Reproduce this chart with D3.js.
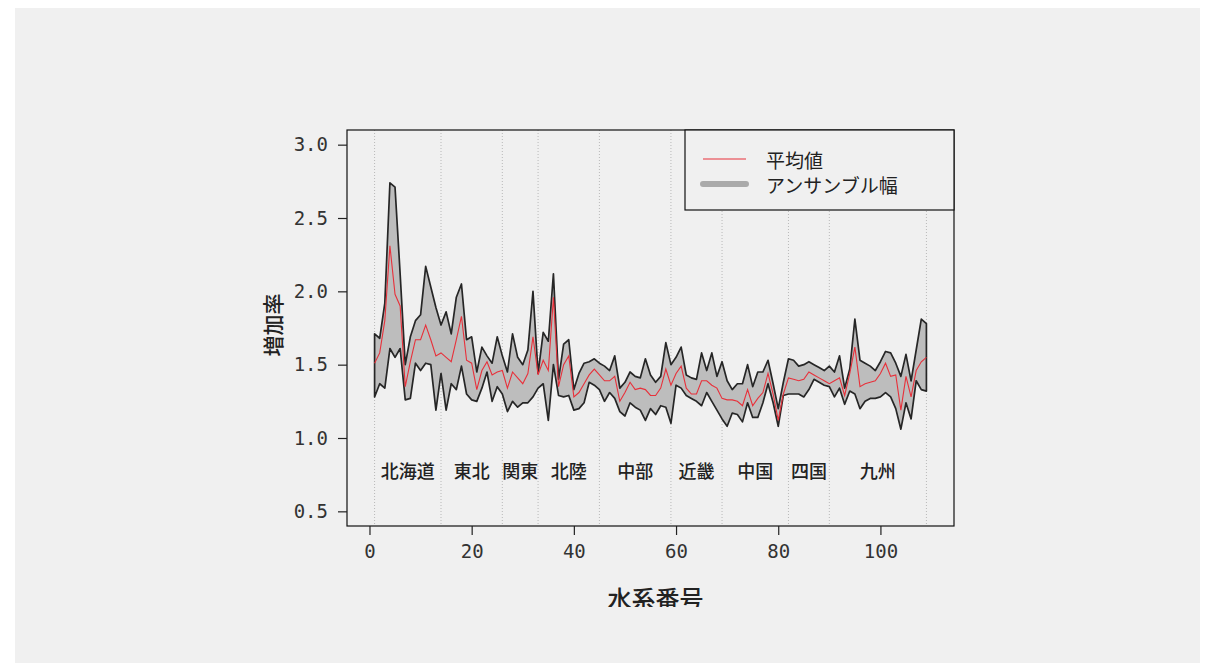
<!DOCTYPE html>
<html>
<head>
<meta charset="utf-8">
<script src="https://cdn.jsdelivr.net/npm/d3@7"></script>
<style>
body { margin: 0; background: #fff; }
</style>
</head>
<body>
<script>
// 水系番号 1..109
const upper = [
  1.71, 1.68, 1.92, 2.74, 2.71, 2.12, 1.50, 1.69, 1.80, 1.84, 2.17, 2.03, 1.89, 1.77, 1.86, 1.71, 1.96, 2.05, 1.67, 1.69, 1.45,
  1.62, 1.56, 1.51, 1.69, 1.56, 1.45, 1.71, 1.55, 1.50, 1.60, 2.00, 1.44, 1.72, 1.66, 2.12, 1.40, 1.64, 1.67, 1.33, 1.44, 1.51,
  1.52, 1.54, 1.51, 1.49, 1.46, 1.56, 1.34, 1.38, 1.45, 1.42, 1.41, 1.54, 1.43, 1.38, 1.42, 1.65, 1.50, 1.55, 1.62, 1.43, 1.41, 1.40,
  1.58, 1.46, 1.58, 1.42, 1.52, 1.39, 1.33, 1.37, 1.37, 1.50, 1.35, 1.45, 1.45, 1.53, 1.37, 1.20, 1.38, 1.54, 1.53, 1.49, 1.50,
  1.52, 1.50, 1.48, 1.46, 1.49, 1.45, 1.56, 1.34, 1.47, 1.81, 1.53, 1.51, 1.49, 1.46, 1.52, 1.59, 1.58, 1.51, 1.42, 1.57, 1.39, 1.60, 1.81, 1.78
];
const lower = [
  1.28, 1.37, 1.34, 1.61, 1.55, 1.61, 1.26, 1.27, 1.51, 1.46, 1.51, 1.50, 1.19, 1.44, 1.19, 1.37, 1.33, 1.49, 1.30, 1.26, 1.25,
  1.34, 1.45, 1.25, 1.35, 1.30, 1.18, 1.25, 1.21, 1.24, 1.24, 1.28, 1.34, 1.37, 1.12, 1.50, 1.29, 1.28, 1.29, 1.19, 1.20, 1.24,
  1.38, 1.36, 1.33, 1.25, 1.31, 1.27, 1.18, 1.15, 1.24, 1.21, 1.19, 1.12, 1.20, 1.16, 1.22, 1.21, 1.10, 1.36, 1.34, 1.29, 1.27, 1.25,
  1.22, 1.31, 1.25, 1.19, 1.13, 1.08, 1.17, 1.16, 1.11, 1.24, 1.14, 1.14, 1.24, 1.37, 1.24, 1.08, 1.29, 1.30, 1.30, 1.30, 1.28,
  1.33, 1.40, 1.38, 1.36, 1.35, 1.28, 1.34, 1.23, 1.32, 1.30, 1.20, 1.25, 1.27, 1.27, 1.28, 1.31, 1.28, 1.20, 1.06, 1.24, 1.13, 1.39, 1.33, 1.32
];
const mean = [
  1.51, 1.58, 1.80, 2.31, 1.98, 1.90, 1.35, 1.52, 1.67, 1.67, 1.77, 1.67, 1.56, 1.58, 1.55, 1.52, 1.67, 1.83, 1.53, 1.51, 1.33,
  1.46, 1.52, 1.43, 1.45, 1.46, 1.34, 1.45, 1.41, 1.37, 1.44, 1.69, 1.43, 1.53, 1.46, 1.96, 1.35, 1.50, 1.56, 1.28, 1.31, 1.37,
  1.43, 1.47, 1.43, 1.39, 1.39, 1.42, 1.25, 1.31, 1.38, 1.33, 1.34, 1.33, 1.29, 1.29, 1.34, 1.47, 1.36, 1.44, 1.49, 1.34, 1.30, 1.30,
  1.39, 1.39, 1.36, 1.34, 1.27, 1.26, 1.26, 1.25, 1.22, 1.33, 1.22, 1.27, 1.31, 1.44, 1.30, 1.12, 1.30, 1.41, 1.40, 1.39, 1.40,
  1.45, 1.43, 1.41, 1.39, 1.37, 1.39, 1.41, 1.29, 1.44, 1.62, 1.35, 1.37, 1.38, 1.39, 1.44, 1.51, 1.42, 1.43, 1.19, 1.42, 1.28, 1.46, 1.52, 1.55
];

const regions = ["北海道", "東北", "関東", "北陸", "中部", "近畿", "中国", "四国", "九州"];
const bounds = [1, 14, 26, 33, 45, 59, 69, 82, 90, 109];
const xTicks = [0, 20, 40, 60, 80, 100];
const yTicks = [0.5, 1.0, 1.5, 2.0, 2.5, 3.0];

const width = 1214;
const height = 663;

const box = { left: 347, right: 954, top: 130, bottom: 526 };

const jp = "'Noto Sans CJK JP', 'Noto Sans', sans-serif";
const num = "'DejaVu Sans Mono', monospace";

let svg = d3.select("body").append("svg")
    .attr("width", width)
    .attr("height", height);

// 背景パネル
svg.append("rect")
    .attr("x", 15).attr("y", 8)
    .attr("width", 1185).attr("height", height - 8)
    .attr("fill", "#f0f0f0");

// 元画像は下端で切れている
svg.append("clipPath").attr("id", "cut")
    .append("rect").attr("x", 0).attr("y", 0).attr("width", width).attr("height", 607);

let g = svg.append("g").attr("clip-path", "url(#cut)");

let data = mean.map((m, i) => ({ x: i + 1, m: m, u: upper[i], l: lower[i] }));

let xScale = d3.scaleLinear()
    .domain([-4.4, 114.4])
    .range([box.left, box.right]);

let yScale = d3.scaleLinear()
    .domain([0.4, 3.1])
    .range([box.bottom, box.top]);

// 地域の区切り
g.selectAll(".sep")
    .data(bounds)
    .enter().append("line")
    .attr("x1", d => xScale(d)).attr("x2", d => xScale(d))
    .attr("y1", box.top).attr("y2", box.bottom)
    .attr("stroke", "#b8b8b8")
    .attr("stroke-width", 1)
    .attr("stroke-dasharray", "1,2");

// アンサンブル幅
let band = d3.area()
    .x(d => xScale(d.x))
    .y0(d => yScale(d.l))
    .y1(d => yScale(d.u));

g.append("path")
    .datum(data)
    .attr("d", band)
    .attr("fill", "#bdbdbd")
    .attr("stroke", "#262626")
    .attr("stroke-width", 1.7)
    .attr("stroke-linejoin", "round");

g.append("path")
    .datum(data)
    .attr("d", d3.line().x(d => xScale(d.x)).y(d => yScale(d.m)))
    .attr("fill", "none")
    .attr("stroke", "#e8303a")
    .attr("stroke-width", 1.1);

// 地域名
g.selectAll(".region")
    .data(regions)
    .enter().append("text")
    .attr("x", (d, i) => xScale((bounds[i] + bounds[i + 1]) / 2))
    .attr("y", yScale(0.78))
    .attr("text-anchor", "middle")
    .attr("dominant-baseline", "central")
    .style("font-family", jp)
    .style("font-size", "18px")
    .style("font-weight", "500")
    .attr("fill", "#222")
    .text(d => d);

// 枠
g.append("rect")
    .attr("x", box.left).attr("y", box.top)
    .attr("width", box.right - box.left).attr("height", box.bottom - box.top)
    .attr("fill", "none")
    .attr("stroke", "#111")
    .attr("stroke-width", 1.2);

let xAxis = g.append("g")
    .attr("transform", `translate(0,${box.bottom})`)
    .call(d3.axisBottom(xScale).tickValues(xTicks).tickSize(9).tickPadding(10));

let yAxis = g.append("g")
    .attr("transform", `translate(${box.left},0)`)
    .call(d3.axisLeft(yScale).tickValues(yTicks).tickSize(9).tickPadding(10)
        .tickFormat(d3.format(".1f")));

[xAxis, yAxis].forEach(a => {
    a.select(".domain").remove();
    a.selectAll("line").attr("stroke", "#222").attr("stroke-width", 1.2);
    a.selectAll("text")
        .style("font-family", num)
        .style("font-size", "19px")
        .attr("fill", "#333");
});

// 軸タイトル
g.append("text")
    .attr("x", xScale(56))
    .attr("y", 597.5)
    .attr("text-anchor", "middle")
    .attr("dominant-baseline", "central")
    .style("font-family", jp)
    .style("font-size", "24px")
    .style("font-weight", "500")
    .attr("fill", "#222")
    .text("水系番号");

g.append("text")
    .attr("transform", `translate(272,${yScale(1.77)}) rotate(-90)`)
    .attr("text-anchor", "middle")
    .attr("dominant-baseline", "central")
    .style("font-family", jp)
    .style("font-size", "21px")
    .style("font-weight", "500")
    .attr("fill", "#222")
    .text("増加率");

// 凡例
let legend = g.append("g");
legend.append("rect")
    .attr("x", 685).attr("y", box.top)
    .attr("width", box.right - 685).attr("height", 80)
    .attr("fill", "#f0f0f0")
    .attr("stroke", "#111")
    .attr("stroke-width", 1.2);

let items = [
    { label: "平均値", color: "#e8303a", w: 1.2 },
    { label: "アンサンブル幅", color: "#aaaaaa", w: 6 }
];

items.forEach((it, i) => {
    let yy = 159 + i * 25;
    legend.append("line")
        .attr("x1", 703).attr("x2", 746)
        .attr("y1", yy).attr("y2", yy)
        .attr("stroke", it.color)
        .attr("stroke-width", it.w)
        .attr("stroke-linecap", it.w > 2 ? "round" : "butt");
    legend.append("text")
        .attr("x", 766).attr("y", yy)
        .attr("dominant-baseline", "central")
        .style("font-family", jp)
        .style("font-size", "19px")
        .attr("fill", "#222")
        .text(it.label);
});
</script>
</body>
</html>
